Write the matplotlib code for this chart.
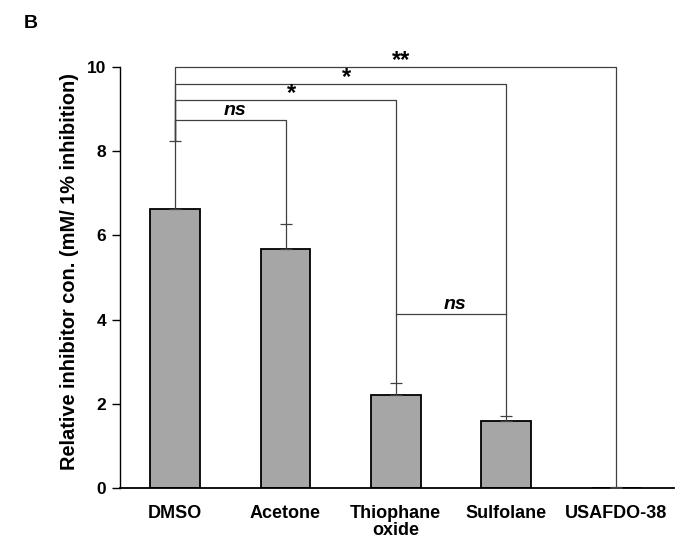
import numpy as np
import matplotlib.pyplot as plt

plt.rcParams['font.family'] = ['Liberation Sans', 'DejaVu Sans']

# data
categories = ['DMSO', 'Acetone', 'Thiophane\noxide', 'Sulfolane', 'USAFDO-38']
values = [6.63, 5.67, 2.22, 1.60, 0.01]
errors = [1.62, 0.60, 0.28, 0.11, 0.02]

# significance brackets: (left index, right index, height, label)
brackets = [(0, 1, 8.74, 'ns'), (0, 2, 9.22, '*'), (0, 3, 9.6, '*'),
            (0, 4, 10.0, '**'), (2, 3, 4.13, 'ns')]

fig = plt.figure(figsize=(6.75, 5.41), dpi=100)
ax = fig.add_axes([0.178, 0.098, 0.82, 0.778])

x = np.arange(len(categories))
ax.bar(x, values, width=0.45, color='#a6a6a6', edgecolor='black', linewidth=1.3, zorder=2)
ax.errorbar(x, values, yerr=[np.zeros(len(errors)), errors], fmt='none',
            ecolor='#404040', elinewidth=0.9, capsize=4, capthick=0.9, zorder=3)

tops = np.array(values) + np.array(errors)
line_kw = dict(color='#404040', lw=0.9, clip_on=False, zorder=1)
for i, j, h, lab in brackets:
    if lab == 'ns' and i == 2:
        ax.plot([x[i], x[j]], [h, h], **line_kw)
    else:
        ax.plot([x[i], x[i], x[j], x[j]], [tops[i], h, h, tops[j]], **line_kw)
    if lab == 'ns':
        ax.text((x[i] + x[j]) / 2 + 0.04, h + 0.03, lab, ha='center', va='bottom',
                fontsize=14, fontweight='bold', style='italic', clip_on=False)
    else:
        ax.text((x[i] + x[j]) / 2 + 0.05, h - 0.12, lab, ha='center', va='bottom',
                fontsize=17, fontweight='bold', clip_on=False)

ax.set_xlim(-0.5, 4.52)
ax.set_ylim(0, 10)
ax.set_yticks(np.arange(0, 11, 2))
ax.set_xticks(x)
ax.set_xticklabels(categories, fontsize=13, fontweight='bold', linespacing=1.0)
ax.tick_params(axis='x', length=0, pad=12)
ax.tick_params(axis='y', direction='out', length=6, width=1, labelsize=12.5, pad=4)
for lbl in ax.get_yticklabels():
    lbl.set_fontweight('bold')
ax.spines['top'].set_visible(False)
ax.spines['right'].set_visible(False)
ax.spines['left'].set_linewidth(1.0)
ax.spines['bottom'].set_linewidth(1.3)
ax.set_ylabel('Relative inhibitor con. (mM/ 1% inhibition)', fontsize=14.4,
              fontweight='bold')
ax.yaxis.set_label_coords(-0.074, 0.515)

fig.text(0.046, 0.957, 'B', fontsize=14, fontweight='bold', ha='center', va='center')

fig.savefig('out.png', dpi=100)
